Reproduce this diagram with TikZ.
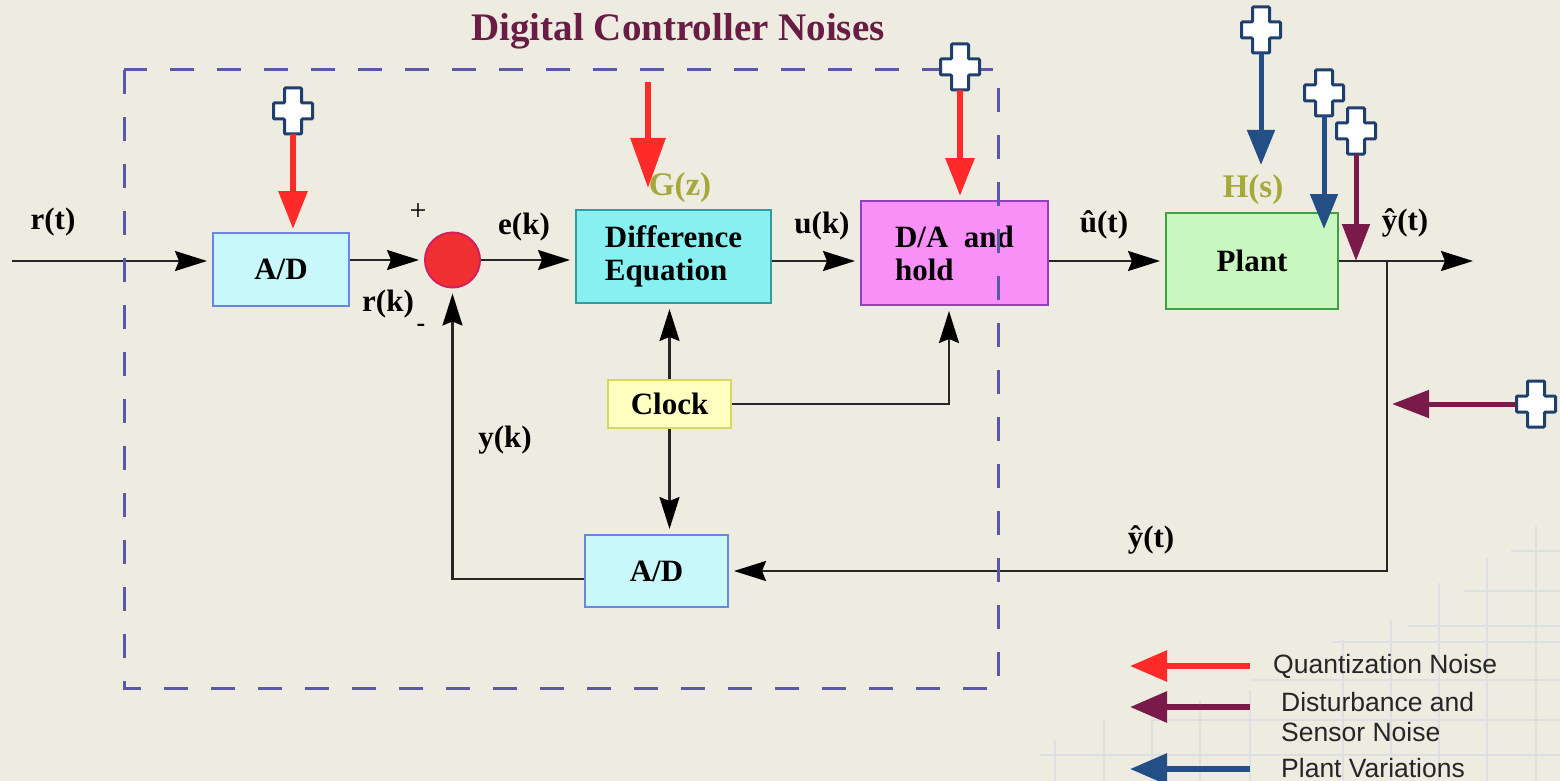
\documentclass[tikz,border=0pt]{standalone}
\usepackage{fontspec}
\setmainfont{Liberation Serif}
\newfontfamily\legfont{Liberation Sans}
\usetikzlibrary{arrows.meta}
\definecolor{bg}{HTML}{EEEBE1}
\definecolor{dashc}{HTML}{5C58A8}
\definecolor{qred}{HTML}{FF2A2A}
\definecolor{maroon}{HTML}{7A1A4A}
\definecolor{pblue}{HTML}{234F86}
\definecolor{crossblue}{HTML}{1F3F6F}
\definecolor{titlec}{HTML}{6A1C45}
\definecolor{olive}{HTML}{A6A83A}
\definecolor{gridc}{HTML}{DCE0E2}
\definecolor{adfill}{HTML}{C8F8FA}
\definecolor{addraw}{HTML}{6A86E0}
\definecolor{defill}{HTML}{88F0F0}
\definecolor{dedraw}{HTML}{309C9C}
\definecolor{dafill}{HTML}{F890F8}
\definecolor{dadraw}{HTML}{9040C0}
\definecolor{plfill}{HTML}{C8F8C0}
\definecolor{pldraw}{HTML}{40A040}
\definecolor{ckfill}{HTML}{FFFFC0}
\definecolor{ckdraw}{HTML}{D8D860}
\definecolor{sumfill}{HTML}{F03030}
\definecolor{sumdraw}{HTML}{D02060}
\tikzset{
  blk/.style={draw, line width=2pt, font=\bfseries\fontsize{31}{33}\selectfont, inner sep=0pt, align=left},
  lbl/.style={font=\bfseries\fontsize{31}{32}\selectfont, inner sep=0pt},
  tf/.style={font=\bfseries\fontsize{33}{34}\selectfont, inner sep=0pt, text=olive},
  legtext/.style={font=\legfont\fontsize{26.5}{30}\selectfont, inner sep=0pt, anchor=west, align=left, text=black!85},
  wire/.style={line width=2.2pt, draw=black!85},
  arr/.style={wire, -{Stealth[length=32pt,width=20pt,inset=4pt,fill=black,color=black]}, shorten >=5pt},
  redarr/.style={line width=6pt, draw=qred, -{Triangle[length=38pt,width=28pt]}},
  bluearr/.style={line width=5pt, draw=pblue, -{Triangle[length=35pt,width=27pt]}},
  mararr/.style={line width=5pt, draw=maroon, -{Triangle[length=37pt,width=27pt]}},
  dashbox/.style={line width=3pt, draw=dashc, dash pattern=on 24pt off 23pt},
  gridline/.style={line width=1.3pt, draw=gridc},
  plus/.pic={\draw[line width=3pt, draw=crossblue, fill=white, rounded corners=1pt]
     (-8.5,-23) -- (8.5,-23) -- (8.5,-8) -- (19.5,-8) -- (19.5,8) -- (8.5,8) -- (8.5,23)
     -- (-8.5,23) -- (-8.5,8) -- (-19.5,8) -- (-19.5,-8) -- (-8.5,-8) -- cycle;}
}
\begin{document}
\begin{tikzpicture}[x=1pt,y=-1pt]
\fill[bg] (0,0) rectangle (1560,781);
\useasboundingbox (0,0) rectangle (1560,781);

% faint background grid (bottom right)
\foreach \x/\y in {1536/526,1487/558,1439/583,1391/620,1343/640,1250/690,1200/700,1152/710,1104/720,1055/740}
  \draw[gridline] (\x,\y) -- (\x,781);
\foreach \y/\x in {551/1511,591/1464,626/1407,642/1332,680/1250,720/1150,755/1040}
  \draw[gridline] (\x,\y) -- (1560,\y);

% title
\node[font=\bfseries\fontsize{39}{40}\selectfont, text=titlec, inner sep=0pt] (title) at (678,31) {Digital Controller Noises};

% blocks
\node[blk, fill=adfill, draw=addraw, minimum width=136pt, minimum height=73pt] (ad1) at (281,269.5) {A/D};
\node[circle, draw=sumdraw, fill=sumfill, line width=2pt, minimum size=55pt, inner sep=0pt] (sum) at (452.5,260) {};
\node[blk, fill=defill, draw=dedraw, minimum width=195pt, minimum height=93pt] (de) at (673.5,256.5) {Difference\\Equation};
\node[blk, fill=dafill, draw=dadraw, minimum width=187pt, minimum height=104pt] (da) at (954.5,253) {D/A \ and\\hold};
\node[blk, fill=plfill, draw=pldraw, minimum width=172pt, minimum height=96pt] (plant) at (1252,261) {Plant};
\node[blk, fill=ckfill, draw=ckdraw, minimum width=123pt, minimum height=48pt] (clock) at (669.5,404) {Clock};
\node[blk, fill=adfill, draw=addraw, minimum width=143pt, minimum height=72pt] (ad2) at (656.5,571) {A/D};

% labels
\node[tf] (gz) at (680,188) {G(z)};
\node[tf] (hs) at (1253,190) {H(s)};
\node[lbl] (lrt) at (53,222) {r(t)};
\node[font=\fontsize{30}{30}\selectfont, inner sep=0pt] (lplus) at (418,212) {+};
\node[lbl] (lrk) at (388,304) {r(k)};
\node[font=\bfseries\fontsize{26}{26}\selectfont, inner sep=0pt] (lminus) at (421,328) {-};
\node[lbl] (lek) at (524,227) {e(k)};
\node[lbl] (luk) at (822,226) {u(k)};
\node[lbl] (lut) at (1104,225) {û(t)};
\node[lbl] (lyt) at (1405,223) {ŷ(t)};
\node[lbl] (lyk) at (505,440) {y(k)};
\node[lbl] (lyt2) at (1151,540) {ŷ(t)};

% signal path
\coordinate (in) at (12,261);
\coordinate (br) at (1387,261);
\coordinate (out) at (1473,261);
\draw[arr] (in) -- (in -| ad1.west);
\draw[arr] (ad1.east |- sum) -- (sum.west);
\draw[arr] (sum.east) -- (sum.east -| de.west);
\draw[arr] (de.east |- in) -- (da.west |- in);
\draw[arr] (da.east |- in) -- (plant.west |- in);
\draw[wire] (plant.east |- in) -- (br);
\draw[arr, shorten >=0pt] (br) -- (out);
\draw[arr] (br) |- (ad2.east);
\draw[arr] ([yshift=-8pt]ad2.west) -| (sum.south);
\draw[arr] (clock.north) -- (clock.north |- de.south);
\draw[arr] (clock.east) -| ([xshift=-5.5pt]da.south);
\draw[arr] (clock.south) -- (clock.south |- ad2.north);

% dashed controller boundary
\draw[dashbox] (124,70) rectangle (998,688);

% noise sources
\pic at (293,111) {plus};
\coordinate (c1) at (293,134);
\draw[redarr] (c1) -- ([yshift=3pt]c1 |- ad1.north);

\coordinate (gtop) at (648,82);
\coordinate (gtip) at (648,188);
\draw[line width=6pt, draw=qred, -{Triangle[length=50pt,width=34pt]}] (gtop) -- (gtip);

\pic at (960,67) {plus};
\coordinate (c2) at (960,90);
\draw[redarr] (c2) -- ([yshift=4pt]c2 |- da.north);

\pic at (1261,30) {plus};
\coordinate (c3) at (1261,53);
\coordinate (t3) at (1261,165);
\draw[bluearr] (c3) -- (t3);

\pic at (1324,93) {plus};
\coordinate (c4) at (1324,116);
\coordinate (t4) at (1324,229);
\draw[bluearr] (c4) -- (t4);

\pic at (1356,131) {plus};
\coordinate (c5) at (1356,154);
\draw[mararr] (c5) -- (c5 |- br);

\pic at (1536,404) {plus};
\coordinate (c6) at (1516,404);
\draw[mararr, shorten >=5pt] (c6) -- (c6 -| br);

% legend
\coordinate (l1a) at (1250,666); \coordinate (l1b) at (1130,666);
\coordinate (l2a) at (1250,707); \coordinate (l2b) at (1130,707);
\coordinate (l3a) at (1250,769); \coordinate (l3b) at (1130,769);
\draw[line width=6pt, draw=qred, -{Triangle[length=37pt,width=30pt]}] (l1a) -- (l1b);
\draw[line width=6pt, draw=maroon, -{Triangle[length=37pt,width=30pt]}] (l2a) -- (l2b);
\draw[line width=6pt, draw=pblue, -{Triangle[length=37pt,width=30pt]}] (l3a) -- (l3b);
\node[legtext] (q) at (1273,666) {Quantization Noise};
\node[legtext] (d) at (1281,717) {Disturbance and\\Sensor Noise};
\node[legtext] (p) at (1281,768) {Plant Variations};
\end{tikzpicture}
\end{document}
